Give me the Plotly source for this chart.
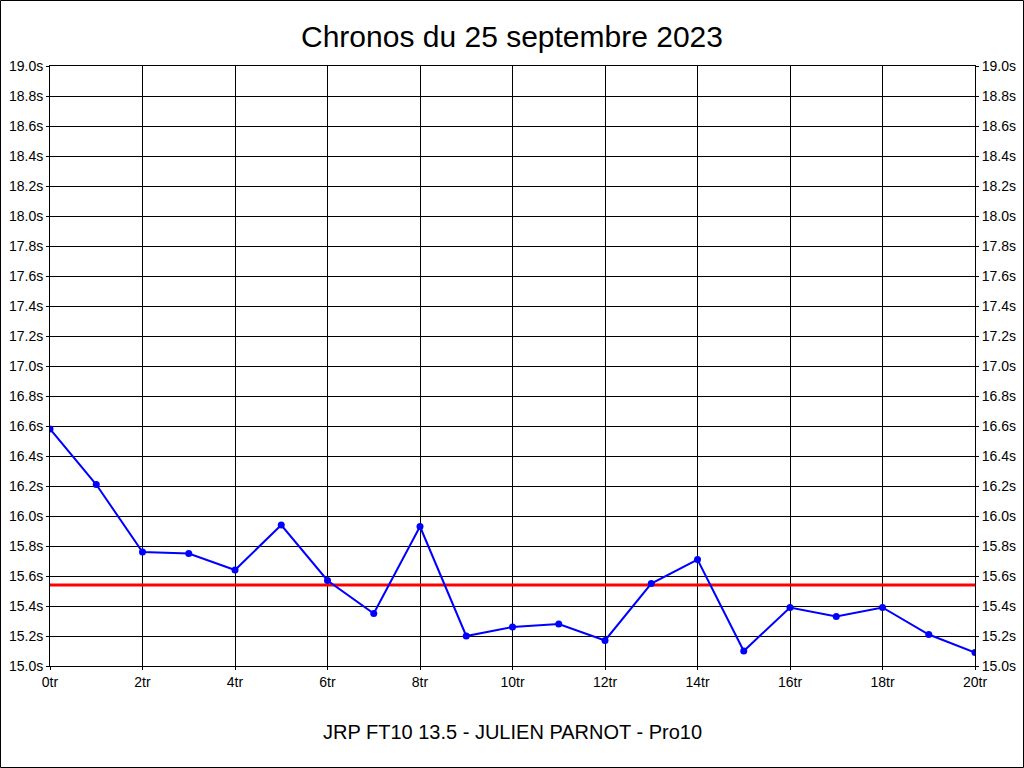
import plotly.graph_objects as go

TITLE = "Chronos du 25 septembre 2023"
FOOTER = "JRP FT10 13.5 - JULIEN PARNOT - Pro10"

tours = list(range(21))
chronos = [16.58, 16.21, 15.76, 15.75, 15.64, 15.94, 15.57, 15.35, 15.93, 15.20,
           15.26, 15.28, 15.17, 15.55, 15.71, 15.10, 15.39, 15.33, 15.39, 15.21, 15.09]
moyenne = 15.54

y_ticks = [round(15.0 + 0.2 * i, 1) for i in range(21)]
y_labels = [f"{v:.1f}s" for v in y_ticks]
x_ticks = list(range(0, 21, 2))
x_labels = [f"{v}tr" for v in x_ticks]

W, H = 1024, 768
L, R, T, B = 50, 49, 66, 102
pw, ph = W - L - R, H - T - B
FONT = "Liberation Sans, Arial, sans-serif"

fig = go.Figure()
fig.add_trace(go.Scatter(x=[tours[0], tours[-1]], y=[moyenne, moyenne], mode="lines",
                         line=dict(color="#ff0000", width=3), hoverinfo="skip"))
fig.add_trace(go.Scatter(x=tours, y=chronos, mode="lines+markers",
                         line=dict(color="#0000ff", width=2),
                         marker=dict(color="#0000ff", size=7)))
# invisible trace for the right axis
fig.add_trace(go.Scatter(x=tours, y=chronos, yaxis="y2", mode="lines",
                         line=dict(width=0), opacity=0, hoverinfo="skip"))

axis_font = dict(family=FONT, size=14, color="black")
yax = dict(range=[15.0, 19.0], tickvals=y_ticks, ticktext=y_labels, showgrid=True,
           gridcolor="black", gridwidth=1, zeroline=False, showline=True, linecolor="black",
           linewidth=1, ticks="outside", ticklen=3, tickcolor="black", tickfont=axis_font,
           automargin=False)

fig.update_layout(
    width=W, height=H,
    margin=dict(l=L, r=R, t=T, b=B),
    paper_bgcolor="white", plot_bgcolor="white",
    showlegend=False,
    title=dict(text=TITLE, x=0.5, xanchor="center", y=1 - 36 / H, yanchor="middle",
               font=dict(family=FONT, size=30, color="black")),
    xaxis=dict(range=[0, 20], tickvals=x_ticks, ticktext=x_labels, showgrid=True,
               gridcolor="black", gridwidth=1, zeroline=False, showline=True, mirror=True,
               linecolor="black", linewidth=1, ticks="outside", ticklen=3, tickcolor="black",
               tickfont=axis_font, automargin=False),
    yaxis=yax,
    yaxis2=dict(yax, overlaying="y", side="right", showgrid=False),
    annotations=[dict(text=FOOTER, xref="paper", yref="paper", x=0.5, y=-66 / ph,
                      xanchor="center", yanchor="middle", showarrow=False,
                      font=dict(family=FONT, size=20, color="black"))],
    shapes=[dict(type="rect", xref="paper", yref="paper",
                 x0=-(L - 0.5) / pw, x1=1 + (R - 0.5) / pw,
                 y0=-(B - 0.5) / ph, y1=1 + (T - 0.5) / ph,
                 line=dict(color="black", width=1))],
)

fig.write_html("out.html", config={"displayModeBar": False},
               post_script="document.body.style.margin='0';document.body.style.overflow='hidden';")
